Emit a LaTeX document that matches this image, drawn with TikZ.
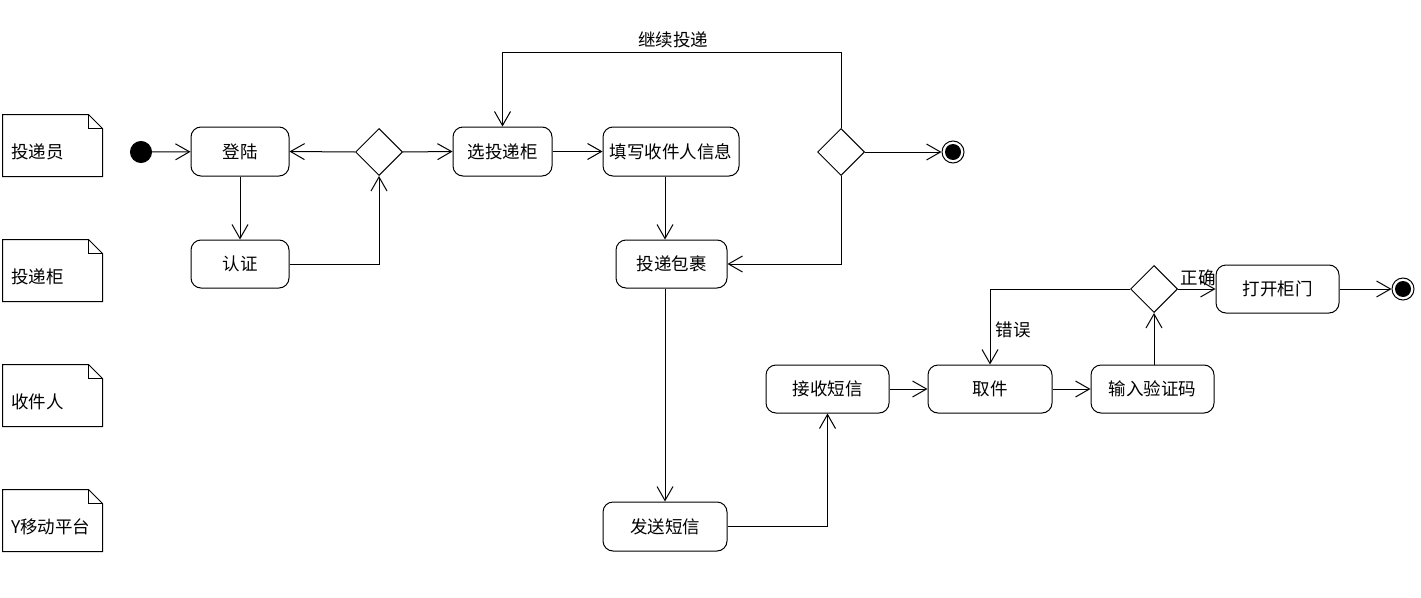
\documentclass[tikz,border=0pt]{standalone}
\usepackage{fontspec}
\setmainfont{Noto Sans CJK SC}
\usetikzlibrary{arrows.meta,shapes.geometric}
\begin{document}
\begin{tikzpicture}[x=1pt,y=-1pt,line width=1pt,
  font=\fontsize{17.5}{21}\selectfont,
  arr/.style={-{Straight Barb[length=14pt,width=16pt,line width=1pt]}},
  act/.style={draw,rounded corners=10pt,inner sep=0pt,align=center},
  notebox/.style={inner xsep=0pt,inner ysep=0pt,text width=83pt,align=left,minimum width=99pt,minimum height=61pt,text height=25pt,text depth=0pt},
  dec/.style={draw,diamond,aspect=1,inner sep=0pt,minimum width=47pt,minimum height=47pt},
  startnode/.style={circle,fill=black,draw,inner sep=0pt,minimum size=21pt},
  endnode/.style={circle,draw,fill=white,inner sep=0pt,minimum size=22pt,
     path picture={\fill[black] (path picture bounding box.center) circle[radius=8pt];}},
  lbl/.style={inner sep=1pt}
]
\useasboundingbox (0,0) rectangle (1421,597);
% notes
\node[notebox] (n1) at (52.5,145.5) {投递员};
\node[notebox] (n2) at (52.5,270.5) {投递柜};
\node[notebox] (n3) at (52.5,395.5) {收件人};
\node[notebox] (n4) at (52.5,520.5) {Y移动平台};
\foreach \n in {n1,n2,n3,n4}{
  \draw (\n.north west) -- ([xshift=-14pt]\n.north east) -- ([yshift=-14pt]\n.north east) -- (\n.south east) -- (\n.south west) -- cycle;
  \draw ([xshift=-14pt]\n.north east) -- ([xshift=-14pt,yshift=-14pt]\n.north east) -- ([yshift=-14pt]\n.north east);
}
% nodes
\node[startnode] (start) at (141,152) {};
\node[act,minimum width=98pt,minimum height=49pt] (login) at (240,151.5) {登陆};
\node[act,minimum width=98pt,minimum height=48pt] (auth) at (240,264) {认证};
\node[dec] (d1) at (379,152) {};
\node[act,minimum width=99pt,minimum height=49pt] (sel) at (502.5,151.5) {选投递柜};
\node[act,minimum width=136pt,minimum height=49pt] (fill) at (671,151.5) {填写收件人信息};
\node[dec] (d2) at (841,152) {};
\node[endnode] (end1) at (953,152) {};
\node[act,minimum width=111pt,minimum height=48pt] (deliver) at (671.5,264) {投递包裹};
\node[act,minimum width=124pt,minimum height=49pt] (send) at (665,526.5) {发送短信};
\node[act,minimum width=123pt,minimum height=48pt] (recv) at (827.5,389) {接收短信};
\node[act,minimum width=124pt,minimum height=48pt] (take) at (990,389) {取件};
\node[act,minimum width=123pt,minimum height=48pt] (code) at (1152.5,389) {输入验证码};
\node[dec] (d3) at (1154,289) {};
\node[act,minimum width=123pt,minimum height=48pt] (open) at (1277.5,289) {打开柜门};
\node[endnode] (end2) at (1403,289) {};
\coordinate (c1) at (841,52);
% labels
\node[lbl] (l1) at (673,40) {继续投递};
\node[lbl] (l2) at (1013,330) {错误};
\node[lbl] (l3) at (1198,278) {正确};
% edges
\draw[arr] (start) -- (login);
\draw[arr] (login) -- (auth);
\draw[arr] (auth.east) -| (d1.south);
\draw[arr] (d1.west) -- (login.east);
\draw[arr] (d1.east) -- (sel.west);
\draw[arr] (sel.east) -- (fill.west);
\draw[arr] (fill.south -| send.north) -- (deliver.north -| send.north);
\draw[arr] (d2.north) -- (c1) -| (sel.north);
\draw[arr] (d2.south) |- (deliver.east);
\draw[arr] (d2.east) -- (end1.west);
\draw[arr] (deliver.south -| send.north) -- (send.north);
\draw[arr] (send.east) -| (recv.south);
\draw[arr] (recv.east) -- (take.west);
\draw[arr] (take.east) -- (code.west);
\draw[arr] (code.north -| d3.south) -- (d3.south);
\draw[arr] (d3.west) -| (take.north);
\draw[arr] (d3.east) -- (open.west);
\draw[arr] (open.east) -- (end2.west);
\end{tikzpicture}
\end{document}
